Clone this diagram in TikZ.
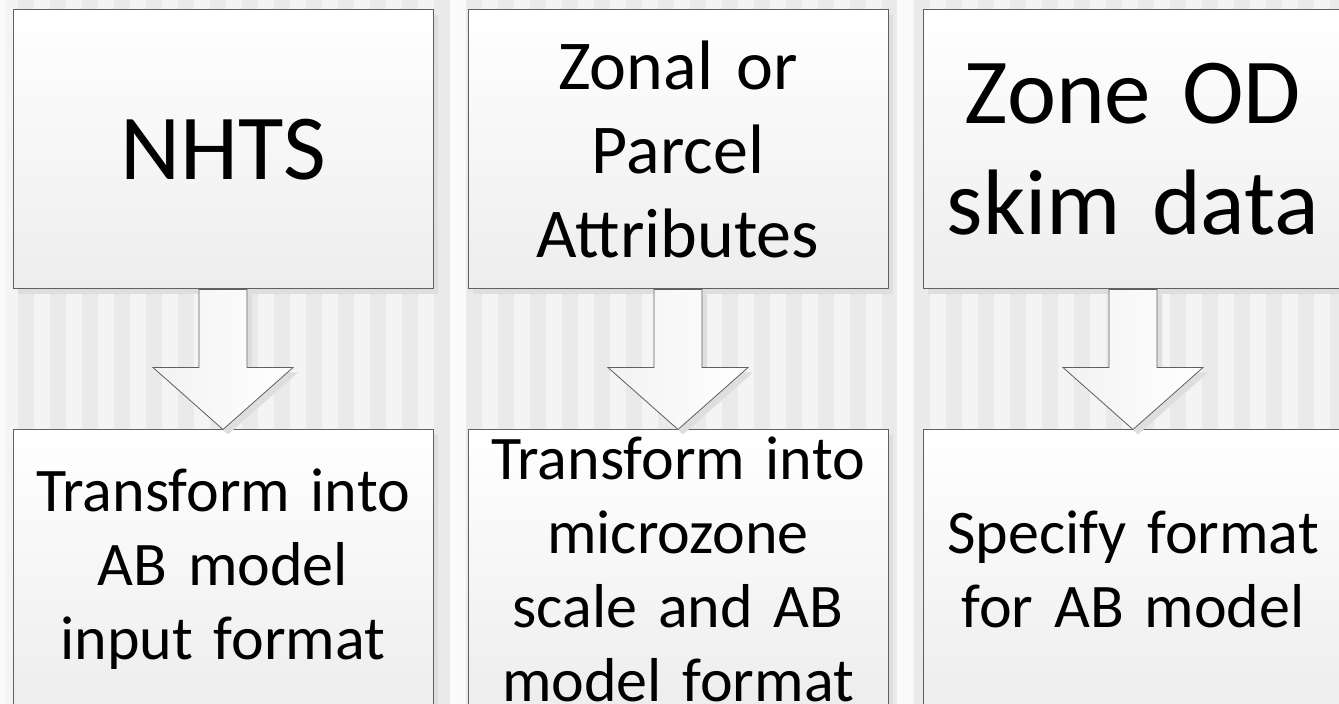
\documentclass[tikz,border=0pt]{standalone}
\usepackage{fontspec}
\setmainfont{Carlito}
\usepackage{xcolor}
\usepackage{tikz}
\usetikzlibrary{positioning, calc, shadows}
\definecolor{laneshade}{RGB}{234, 234, 234}
\definecolor{lanelight}{RGB}{244, 244, 244}
\definecolor{boxline}{RGB}{96, 96, 96}

\newcommand{\bigtext}{\fontsize{93}{111}\selectfont}
\newcommand{\midtext}{\fontsize{70}{84}\selectfont}
\newcommand{\smalltext}{\fontsize{62}{74}\selectfont}

\begin{document}
\begin{tikzpicture}[
  x=1pt, y=1pt,
  node distance=140pt,
  stage/.style={
    draw=boxline, line width=1pt, top color=white, bottom color=black!7,
    text width=410pt, align=center, minimum height=279pt,
    inner xsep=5pt, inner ysep=0pt,
    drop shadow={shadow xshift=5pt, shadow yshift=-5pt, fill=black!13, opacity=1}
  },
  bigarrow/.style={
    draw=boxline, line width=0.8pt, left color=black!5, right color=white,
    drop shadow={shadow xshift=5pt, shadow yshift=-5pt, fill=black!13, opacity=1}
  }
]

  % Sfondo a bande verticali
  \useasboundingbox (0,0) rectangle (1339,704);
  \fill[lanelight] (0,0) rectangle (1339,704);
  \foreach \x in {18,50,...,1330}
    \fill[laneshade] (\x,0) rectangle ++(16,704);
  \fill[black!2] (0,0) rectangle (5,704);
  \fill[black!2] (450,0) rectangle (466,704);
  \fill[black!2] (897,0) rectangle (913,704);

  % Dati di partenza (riga superiore)
\node[stage, font=\bigtext] (nhts) at (223, 554.5) {NHTS};
\node[stage, font=\midtext] (attrib) at (678, 554.5) {Zonal or\\Parcel\\Attributes};
\node[stage, font=\bigtext] (skim) at (1133, 554.5) {Zone OD\\skim data};

  % Trasformazioni (riga inferiore)
\node[stage, font=\smalltext, below=140pt of nhts] (nhtsfmt) {Transform into\\AB model\\input format};
\node[stage, font=\smalltext, below=140pt of attrib] (microzone) {Transform into\\microzone\\scale and AB\\model format};
\node[stage, font=\smalltext, below=140pt of skim] (skimfmt) {Specify format\\for AB model};

  % Frecce larghe
  \draw[bigarrow] ($(nhts.south)+(-24,0)$) -- ++(0,-78) -- ++(-46,0) -- (nhtsfmt.north)
    -- ($(nhts.south)+(70,-78)$) -- ++(-46,0) -- ($(nhts.south)+(24,0)$) -- cycle;
  \draw[bigarrow] ($(attrib.south)+(-24,0)$) -- ++(0,-78) -- ++(-46,0) -- (microzone.north)
    -- ($(attrib.south)+(70,-78)$) -- ++(-46,0) -- ($(attrib.south)+(24,0)$) -- cycle;
  \draw[bigarrow] ($(skim.south)+(-24,0)$) -- ++(0,-78) -- ++(-46,0) -- (skimfmt.north)
    -- ($(skim.south)+(70,-78)$) -- ++(-46,0) -- ($(skim.south)+(24,0)$) -- cycle;

\end{tikzpicture}
\end{document}
